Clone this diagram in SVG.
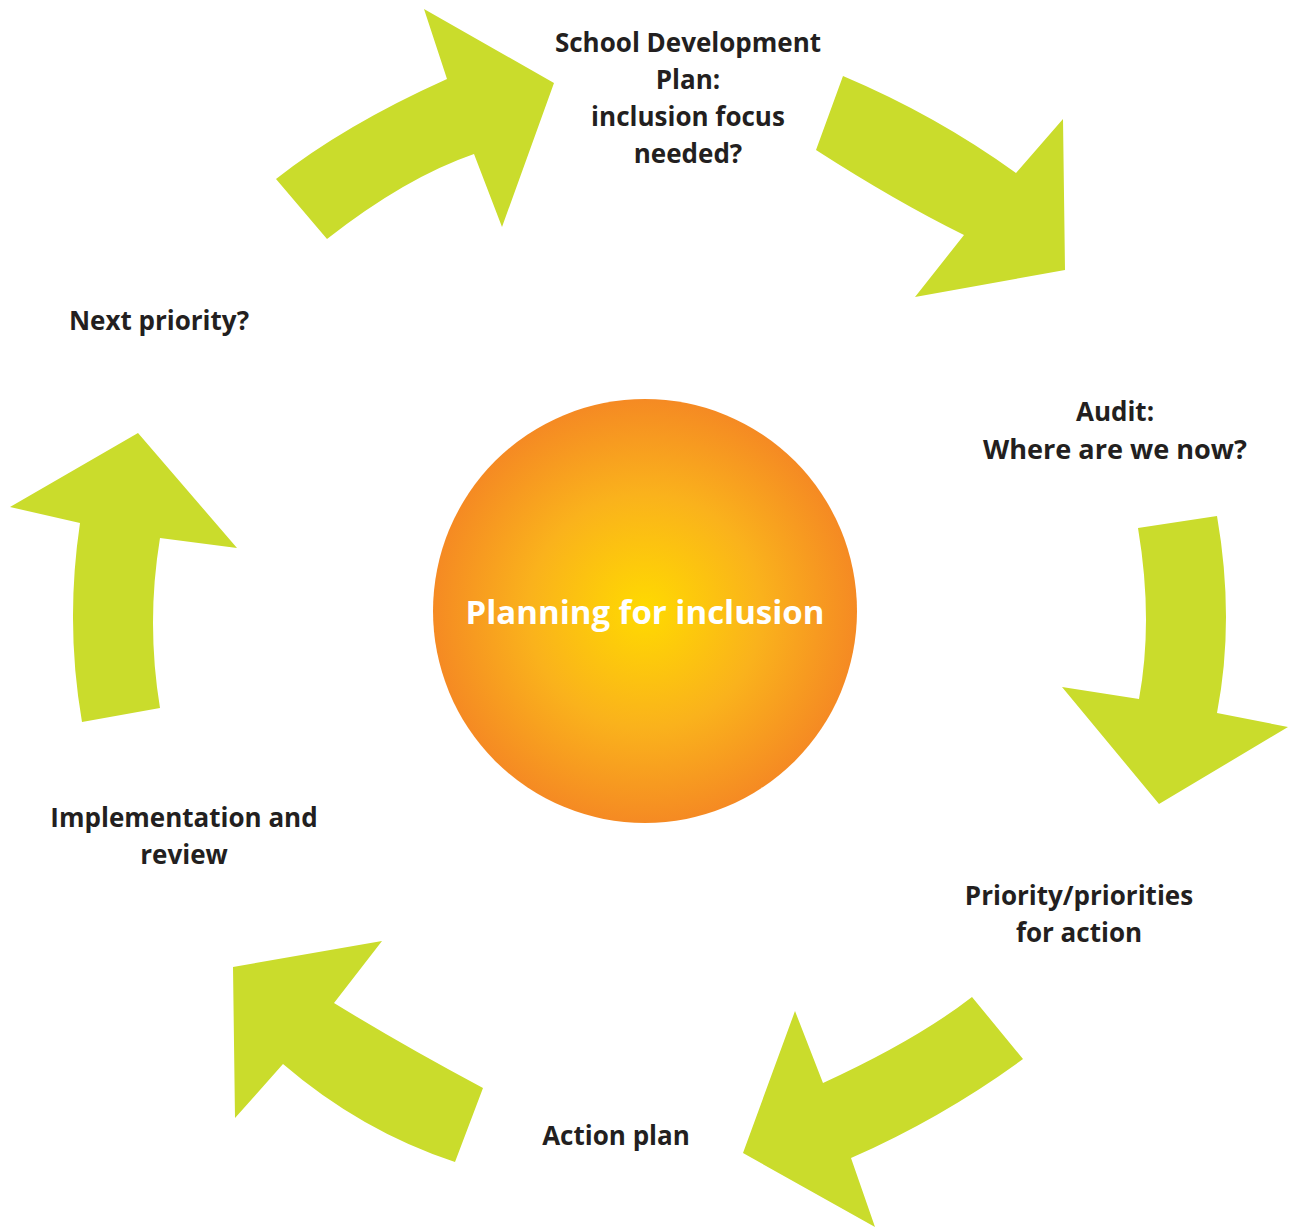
<svg xmlns="http://www.w3.org/2000/svg" width="1290" height="1227" viewBox="0 0 1290 1227">
<defs>
<radialGradient id="g" cx="50%" cy="50%" r="50%">
<stop offset="0" stop-color="#FFDA00"/>
<stop offset="0.55" stop-color="#FAB21C"/>
<stop offset="1" stop-color="#F58A23"/>
</radialGradient>
<style>
.arrow{fill:#CADC2C;}
.lbl{font-family:"Open Sans","Liberation Sans",sans-serif;font-weight:bold;font-size:26px;fill:#231F20;text-anchor:middle;}
.center{font-family:"Open Sans","Liberation Sans",sans-serif;font-weight:bold;font-size:33px;fill:#FFFFFF;text-anchor:middle;}
</style>
</defs>
<rect width="1290" height="1227" fill="#FFFFFF"/>
<g id="connectors">
<path class="arrow" d="M276,179 Q344.5,125 447,79 L424,9 L554,83 L502,227 L474,154 Q405.5,177.5 327,239 Z"/>
<path class="arrow" d="M843,76 Q936.5,115.5 1016,173 L1063,119 L1065,270 L915,297 L964,235 Q896,201.5 816,150 Z"/>
<path class="arrow" d="M1217,516 Q1235,619.5 1217,713 L1288,727 L1159,804 L1062,687 L1139,699 Q1153.5,620.5 1138,528 Z"/>
<path class="arrow" d="M1023,1059 Q943,1117.5 851,1158 L875,1227 L743,1153 L795,1011 L823,1083 Q916.5,1040 972,997 Z"/>
<path class="arrow" d="M455,1162 Q361,1131 283,1064 L235,1118 L233,967 L382,941 L334,1003 Q401.5,1044.5 483,1088 Z"/>
<path class="arrow" d="M82,722 Q65,623.5 80,523 L10,507 L138,433 L237,548 L160,538 Q146,623 160,708 Z"/>
</g>
<g id="center">
<circle cx="645" cy="611" r="212" fill="url(#g)"/>
<text class="center" x="645" y="624">Planning for inclusion</text>
</g>
<g id="sdp">
<text class="lbl" x="688" y="52">School Development</text>
<text class="lbl" x="688" y="89">Plan:</text>
<text class="lbl" x="688" y="126">inclusion focus</text>
<text class="lbl" x="688" y="163">needed?</text>
</g>
<g id="audit">
<text class="lbl" x="1115" y="421">Audit:</text>
<text class="lbl" x="1115" y="459" textLength="264" lengthAdjust="spacingAndGlyphs">Where are we now?</text>
</g>
<g id="priorities">
<text class="lbl" x="1079" y="905">Priority/priorities</text>
<text class="lbl" x="1079" y="942">for action</text>
</g>
<g id="action">
<text class="lbl" x="616" y="1145">Action plan</text>
</g>
<g id="implementation">
<text class="lbl" x="184" y="827">Implementation and</text>
<text class="lbl" x="184" y="864">review</text>
</g>
<g id="next">
<text class="lbl" x="159" y="330">Next priority?</text>
</g>
</svg>
